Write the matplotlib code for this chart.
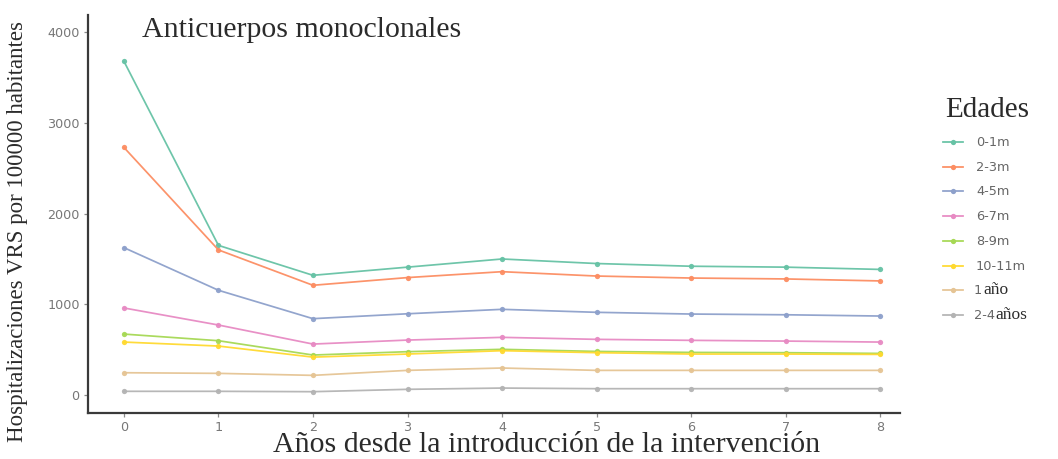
import matplotlib
matplotlib.use("Agg")
import matplotlib.pyplot as plt
from matplotlib.lines import Line2D

# Years since the intervention was introduced
years = [0, 1, 2, 3, 4, 5, 6, 7, 8]

# RSV hospitalisations per 100000 inhabitants, by age group
h_0_1m = [3680, 1650, 1320, 1410, 1500, 1450, 1420, 1410, 1385]
h_2_3m = [2730, 1600, 1210, 1295, 1360, 1312, 1290, 1280, 1258]
h_4_5m = [1625, 1155, 842, 896, 945, 912, 893, 885, 871]
h_6_7m = [960, 772, 562, 606, 636, 614, 603, 595, 584]
h_8_9m = [672, 599, 441, 478, 504, 481, 470, 467, 459]
h_10_11m = [584, 540, 418, 452, 489, 467, 452, 452, 448]
h_1y = [246, 239, 217, 272, 298, 272, 272, 272, 272]
h_2_4y = [41, 41, 37, 63, 77, 70, 70, 70, 70]

series = [h_0_1m, h_2_3m, h_4_5m, h_6_7m, h_8_9m, h_10_11m, h_1y, h_2_4y]
group_labels = ["0-1m", "2-3m", "4-5m", "6-7m", "8-9m", "10-11m", "1 año", "2-4 años"]
colors = ["#66C2A5", "#FC8D62", "#8DA0CB", "#E78AC3", "#A6D854", "#FFD92F", "#E5C494", "#B3B3B3"]

y_ticks = [0, 1000, 2000, 3000, 4000]

W, H = 1058, 459
fig = plt.figure(figsize=(W / 100, H / 100), dpi=100)
fig.patch.set_facecolor("white")

def fx(px):
    return px / W

def fy(py):
    return 1 - py / H

ax = fig.add_axes([fx(88), fy(413), fx(900) - fx(88), fy(15) - fy(413)])

for vals, col in zip(series, colors):
    ax.plot(years, vals, color=col, lw=1.25, marker="o", ms=3.8,
            markeredgewidth=0, alpha=0.95, solid_capstyle="round")

ax.set_xlim(-0.38, 8.21)
ax.set_ylim(-198, 4190)
ax.set_xticks(years)
ax.set_yticks(y_ticks)
ax.set_xticklabels([str(v) for v in years])
ax.set_yticklabels([str(v) for v in y_ticks])

for side in ("top", "right"):
    ax.spines[side].set_visible(False)
for side in ("left", "bottom"):
    ax.spines[side].set_color("#3a3a3a")
    ax.spines[side].set_linewidth(1.6)

ax.tick_params(axis="both", colors="#8a8a8a", labelcolor="#777777",
               length=3, width=0.9, labelsize=9.2)
ax.tick_params(axis="x", pad=2.5)
ax.tick_params(axis="y", pad=3)
for lab in ax.get_xticklabels() + ax.get_yticklabels():
    lab.set_family("DejaVu Sans")

serif = "Liberation Serif"
text_col = "#2b2b2b"

fig.text(fx(142), fy(37), "Anticuerpos monoclonales", family=serif,
         fontsize=21.5, color=text_col, ha="left", va="baseline")
fig.text(fx(547), fy(452), "Años desde la introducción de la intervención",
         family=serif, fontsize=21.5, color=text_col, ha="center", va="baseline")
fig.text(fx(18), fy(232), "Hospitalizaciones VRS por 100000 habitantes",
         family=serif, fontsize=16.5, color=text_col, rotation=90,
         ha="center", va="center")

# Legend
fig.text(fx(945), fy(110), "Edades", family=serif, fontsize=21,
         color=text_col, ha="left", va="center")
row0, step = 142, 24.7
sans_kw = dict(family="DejaVu Sans", fontsize=9.3, color="#666666",
               ha="left", va="baseline")
serif_kw = dict(family=serif, fontsize=12.5, color=text_col,
                ha="left", va="baseline")
for i, (lab, col) in enumerate(zip(group_labels, colors)):
    row = row0 + i * step
    yy = fy(row)
    base = fy(row + 4)
    fig.add_artist(Line2D([fx(943), fx(963)], [yy, yy], color=col, lw=1.25,
                          transform=fig.transFigure))
    fig.add_artist(Line2D([fx(953)], [yy], color=col, marker="o", ms=3.8,
                          markeredgewidth=0, transform=fig.transFigure))
    if lab == "1 año":
        fig.text(fx(974), base, "1", **sans_kw)
        fig.text(fx(983), base, "año", **serif_kw)
    elif lab == "2-4 años":
        fig.text(fx(974), base, "2-4", **sans_kw)
        fig.text(fx(995), base, "años", **serif_kw)
    else:
        fig.text(fx(976), base, lab, **sans_kw)

fig.savefig("out.png", dpi=100, facecolor="white")
